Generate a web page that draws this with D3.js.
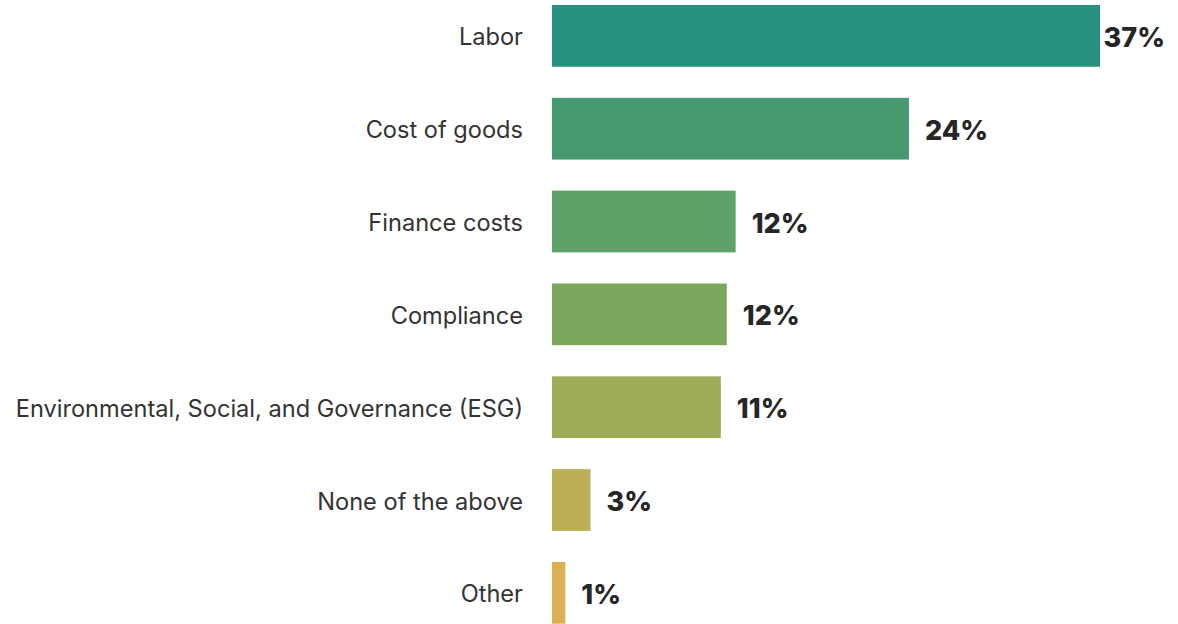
<!DOCTYPE html>
<html>
<head>
<meta charset="utf-8">
<script src="https://cdn.jsdelivr.net/npm/d3@7"></script>
<style>
  html, body { margin: 0; padding: 0; background: #fff; }
  svg { display: block; }
  .cat { font-family: Inter, "Noto Sans", sans-serif; font-size: 23.6px; font-weight: 400; fill: #333; }
  .val { font-family: Inter, "Noto Sans", sans-serif; font-size: 27px; font-weight: 800; fill: #262626; }
</style>
</head>
<body>
<svg id="chart" width="1178" height="624"></svg>
<script>
// Share of respondents citing each cost pressure (%)
const categories = [
  "Labor",
  "Cost of goods",
  "Finance costs",
  "Compliance",
  "Environmental, Social, and Governance (ESG)",
  "None of the above",
  "Other"
];
const values = [37, 24.1, 12.4, 11.8, 11.4, 2.6, 0.9];
const colors = ["#27937e", "#459b6f", "#5fa269", "#7ca85e", "#9fab57", "#bdaf53", "#dab052"];

const width = 1178, height = 624;
const svg = d3.select("#chart");

const data = categories.map((c, i) => ({ cat: c, value: values[i], color: colors[i] }));

const x = d3.scaleLinear().domain([0, 37]).range([552, 1100]);
const y = d3.scaleBand().domain(categories).range([5, 623.7]).paddingInner(0.335).paddingOuter(0);

const fmt = v => d3.format(".0f")(v) + "%";

const rows = svg.selectAll("g.row").data(data).join("g").attr("class", "row");

rows.append("rect")
  .attr("x", x(0))
  .attr("y", d => y(d.cat))
  .attr("width", d => x(d.value) - x(0))
  .attr("height", y.bandwidth())
  .attr("fill", d => d.color);

rows.append("text")
  .attr("class", "cat")
  .attr("x", x(0) - 29)
  .attr("y", d => y(d.cat) + y.bandwidth() / 2 + 9.5)
  .attr("text-anchor", "end")
  .text(d => d.cat);

// Value labels sit just past the bar end, pulled back inside the frame when needed
rows.append("text")
  .attr("class", "val")
  .attr("y", d => y(d.cat) + y.bandwidth() / 2 + 11)
  .text(d => fmt(d.value))
  .each(function (d) {
    const w = this.getComputedTextLength();
    const px = Math.min(x(d.value) + 16, width - 13 - w);
    d3.select(this).attr("x", px);
  });
</script>
</body>
</html>
